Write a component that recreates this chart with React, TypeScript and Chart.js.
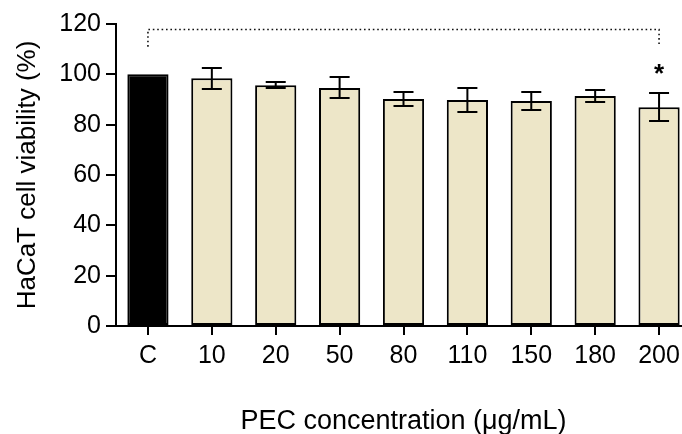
import React, { useEffect, useRef } from 'react';
import { Chart, registerables } from 'chart.js';

Chart.register(...registerables);

// ---- data ----
const categories = ['C', '10', '20', '50', '80', '110', '150', '180', '200'];
const viability = [100, 98.4, 95.7, 94.6, 90.2, 89.8, 89.4, 91.4, 86.9];
const sd = [0, 4.3, 1.3, 4.2, 2.8, 4.9, 3.4, 2.4, 5.6];
const significance = ['', '', '', '', '', '', '', '', '*'];
const yTicks = [0, 20, 40, 60, 80, 100, 120];
const bracketFrom = 0;
const bracketTo = 8;
const bracketTopValue = 118;
const bracketLegValue = 111;

const controlColor = '#000000';
const treatColor = '#ede6c8';
const FONT = "'Liberation Sans', Arial, Helvetica, sans-serif";

const annotationPlugin = {
  id: 'annotations',
  afterDatasetsDraw(chart: any) {
    const { ctx, scales } = chart;
    const y = scales.y;
    const x = scales.x;
    const meta = chart.getDatasetMeta(0);
    ctx.save();
    // error bars
    ctx.strokeStyle = '#000';
    ctx.lineWidth = 2;
    meta.data.forEach((bar: any, i: number) => {
      const e = sd[i];
      if (!e) return;
      const cx = bar.x;
      const top = Math.round(y.getPixelForValue(viability[i] + e));
      const bot = Math.round(y.getPixelForValue(viability[i] - e));
      ctx.beginPath();
      ctx.moveTo(cx, top);
      ctx.lineTo(cx, bot);
      ctx.moveTo(cx - 10, top);
      ctx.lineTo(cx + 10, top);
      ctx.moveTo(cx - 10, bot);
      ctx.lineTo(cx + 10, bot);
      ctx.stroke();
    });
    // significance marks
    ctx.fillStyle = '#000';
    ctx.font = `bold 26px ${FONT}`;
    ctx.textAlign = 'center';
    ctx.textBaseline = 'alphabetic';
    meta.data.forEach((bar: any, i: number) => {
      if (!significance[i]) return;
      const top = y.getPixelForValue(viability[i] + sd[i]);
      ctx.fillText(significance[i], bar.x, top - 11);
    });
    // dotted bracket
    const x0 = x.getPixelForValue(bracketFrom);
    const x1 = x.getPixelForValue(bracketTo);
    const yt = Math.round(y.getPixelForValue(bracketTopValue)) + 0.5;
    const yl = y.getPixelForValue(bracketLegValue);
    ctx.strokeStyle = '#111';
    ctx.lineWidth = 1.6;
    ctx.setLineDash([1.6, 2.8]);
    ctx.beginPath();
    ctx.moveTo(x0, yl);
    ctx.lineTo(x0, yt);
    ctx.lineTo(x1, yt);
    ctx.lineTo(x1, yl);
    ctx.stroke();
    ctx.restore();
  },
};

export default function App() {
  const ref = useRef<HTMLCanvasElement | null>(null);

  useEffect(() => {
    if (!ref.current) return;
    const chart = new Chart(ref.current, {
      type: 'bar',
      data: {
        labels: categories,
        datasets: [
          {
            data: viability,
            backgroundColor: categories.map((_, i) => (i === 0 ? controlColor : treatColor)),
            borderColor: '#000',
            borderWidth: 2,
            borderSkipped: false,
            barPercentage: 0.645,
            categoryPercentage: 1,
          },
        ],
      },
      options: {
        responsive: false,
        animation: false,
        layout: { padding: { top: 24, left: 0, right: 0, bottom: 0 } },
        plugins: {
          legend: { display: false },
          tooltip: { enabled: false },
          title: { display: false },
        },
        scales: {
          x: {
            offset: true,
            grid: {
              display: true,
              drawOnChartArea: false,
              drawTicks: true,
              tickLength: 9,
              color: '#000',
              lineWidth: 2,
              offset: false,
            },
            border: { display: true, color: '#000', width: 2 },
            ticks: {
              color: '#000',
              font: { family: FONT, size: 25 },
              padding: 6,
              maxRotation: 0,
              autoSkip: false,
            },
            title: {
              display: true,
              text: 'PEC concentration (μg/mL)',
              color: '#000',
              font: { family: FONT, size: 27, lineHeight: 0.9 },
              padding: 0,
            },
            afterFit(scale: any) {
              scale.height = 108;
            },
          },
          y: {
            min: 0,
            max: 120,
            afterBuildTicks(scale: any) {
              scale.ticks = yTicks.map((v) => ({ value: v }));
            },
            grid: {
              display: true,
              drawOnChartArea: false,
              drawTicks: true,
              tickLength: 10,
              color: '#000',
              lineWidth: 2,
            },
            border: { display: true, color: '#000', width: 2 },
            ticks: {
              color: '#000',
              font: { family: FONT, size: 25 },
              padding: 5,
            },
            title: {
              display: true,
              text: 'HaCaT cell viability (%)',
              color: '#000',
              font: { family: FONT, size: 26, lineHeight: 1.2 },
              padding: { top: 12, bottom: 0 },
            },
            afterFit(scale: any) {
              scale.width = 116;
            },
          },
        },
      },
      plugins: [annotationPlugin],
    });
    return () => chart.destroy();
  }, []);

  return (
    <div
      style={{
        position: 'fixed',
        left: 0,
        top: 0,
        width: 682,
        height: 434,
        overflow: 'hidden',
        background: '#fff',
      }}
    >
      <canvas ref={ref} width={691} height={434} style={{ display: 'block' }} />
    </div>
  );
}
